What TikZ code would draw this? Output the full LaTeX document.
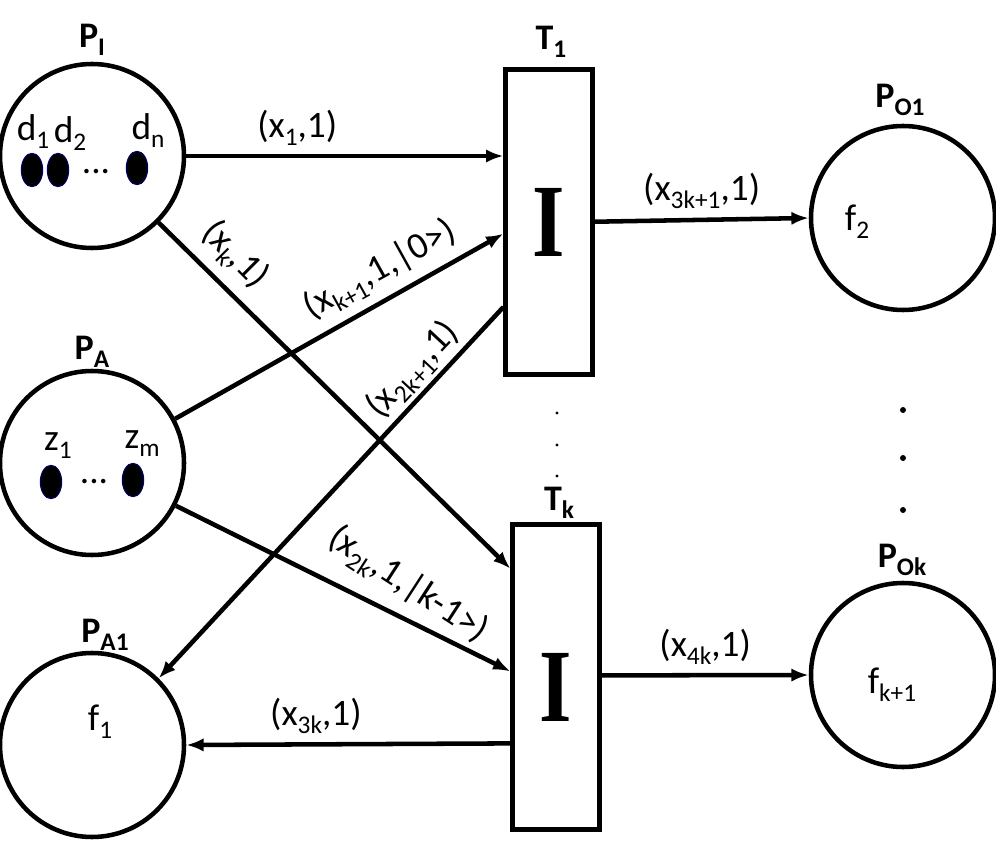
\documentclass[tikz,border=0pt]{standalone}
\usepackage{fontspec}
\setmainfont{Carlito}
\newfontfamily\serifbeam{Liberation Serif}
\usetikzlibrary{positioning,shapes,arrows.meta}
\newcommand{\sbs}[1]{\raisebox{-0.45ex}{\fontsize{19}{19}\selectfont #1}}
\begin{document}
\begin{tikzpicture}[x=0.75pt,y=-0.75pt,line width=3.4pt,>={Latex[length=13pt,width=10pt]},
    place/.style={draw, circle, minimum size=138pt, inner sep=0pt},
    trans/.style={draw, rectangle, minimum width=65pt, minimum height=229pt, inner sep=0pt},
    token/.style={draw=blue!40!black, line width=0.8pt, fill=black, ellipse, minimum width=16pt, minimum height=25pt, inner sep=0pt},
    plabel/.style={font=\fontsize{27}{27}\selectfont\bfseries},
    elabel/.style={font=\fontsize{28}{28}\selectfont},
    beam/.style={font=\fontsize{78}{78}\selectfont\serifbeam\bfseries, inner sep=0pt, xscale=0.8},
    vdot/.style={circle, fill=black, inner sep=0pt}]
  \useasboundingbox (0,0) rectangle (996,841);
  % places and transitions
  \node [place] (pI) at (92,156) {};
  \node [place] (pA) at (92,463) {};
  \node [place] (pA1) at (92,745) {};
  \node [place] (pO1) at (903,218) {};
  \node [place] (pOk) at (903,675) {};
  \node [trans] (t1) at (549,222) {};
  \node [trans] (tk) at (556,677) {};
  \node [beam] (i1) at (t1) {I};
  \node [beam] (ik) at (tk) [yshift=-8pt] {I};
  % names
  \node [plabel] (lpI) at (92,40) {P\sbs{I}};
  \node [plabel] (lpA) at (92,352) {P\sbs{A}};
  \node [plabel] (lpA1) at (105,635) {P\sbs{A1}};
  \node [plabel] (lpO1) at (900,100) {P\sbs{O1}};
  \node [plabel] (lpOk) at (902,560) {P\sbs{Ok}};
  \node [plabel] (lt1) at (551,42) {T\sbs{1}};
  \node [plabel] (ltk) at (559,503) {T\sbs{k}};
  % tokens
  \node [token] (d1) at (32,170) {};
  \node [token] (d2) at (58,170) {};
  \node [token] (dn) at (137,168) {};
  \node [elabel] (ddots) at (96,172) {...};
  \node [elabel] (ld1) at (33,132) {d\sbs{1}};
  \node [elabel] (ld2) at (70,134) {d\sbs{2}};
  \node [elabel] (ldn) at (148,131) {d\sbs{n}};
  \node [token] (z1) at (51,482) {};
  \node [token] (zm) at (133,480) {};
  \node [elabel] (zdots) at (94,482) {...};
  \node [elabel] (lz1) at (58,446) {z\sbs{1}};
  \node [elabel] (lzm) at (142,444) {z\sbs{m}};
  \node [elabel] (lf1) at (100,722) {f\sbs{1}};
  \node [elabel] (lf2) at (857,222) {f\sbs{2}};
  \node [elabel] (lfk) at (892,685) {f\sbs{k+1}};
  % dots
  \foreach \y in {413,445,476} \node [vdot, minimum size=2.5pt] at (557,\y) {};
  \foreach \y in {410,458,510} \node [vdot, minimum size=4.5pt] at (903,\y) {};
  % arcs
  \draw [->] (pI.east) -- node [elabel, above=3pt, pos=0.35] {(x\sbs{1},1)} (pI.east -| t1.west);
  \draw [->] (pI.-45) -- ([yshift=-35pt]tk.north west);
  \draw [->] (pA.28) -- ([yshift=-125pt]t1.north west);
  \draw [->] ([yshift=-180pt]t1.north west) -- (pA1.45);
  \draw [->] (pA.-27) -- ([yshift=-112pt]tk.north west);
  \draw [->] ([yshift=-166pt]tk.north west) -- node [elabel, above=3pt, pos=0.6] {(x\sbs{3k},1)} (pA1.east);
  \draw [->] ([yshift=-116pt]t1.north east) -- node [elabel, above=3pt] {(x\sbs{3k+1},1)} (pO1.west);
  \draw [->] ([yshift=-115pt]tk.north east) -- node [elabel, above=3pt] {(x\sbs{4k},1)} (pOk.west);
  % slanted labels
  \node [elabel, rotate=-45] (lxk) at (235,255) {(x\sbs{k},1)};
  \node [elabel, rotate=29] (lxk1) at (380,270) {(x\sbs{k+1},1,|0>)};
  \node [elabel, rotate=47] (lx2k1) at (413,370) {(x\sbs{2k+1},1)};
  \node [elabel, rotate=-33] (lx2k) at (408,585) {(x\sbs{2k},1,|k-1>)};
\end{tikzpicture}
\end{document}
